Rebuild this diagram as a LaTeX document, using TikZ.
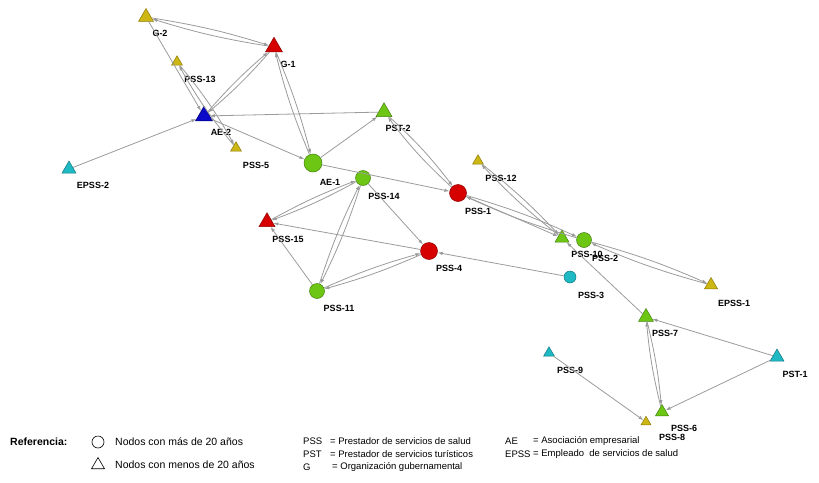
\documentclass[tikz,border=0pt]{standalone}
\usepackage{fontspec}
\setmainfont{Liberation Sans}
\usetikzlibrary{shapes.geometric,arrows.meta}

\definecolor{cOlive}{RGB}{205,183,20}
\definecolor{cOliveD}{RGB}{140,120,0}
\definecolor{cRed}{RGB}{214,0,0}
\definecolor{cRedD}{RGB}{140,0,0}
\definecolor{cGreen}{RGB}{110,198,20}
\definecolor{cGreenD}{RGB}{65,130,10}
\definecolor{cTeal}{RGB}{30,185,195}
\definecolor{cTealD}{RGB}{15,120,130}
\definecolor{cBlue}{RGB}{10,10,200}
\definecolor{cBlueD}{RGB}{0,0,110}
\definecolor{cEdge}{RGB}{155,155,155}

\begin{document}
\begin{tikzpicture}[x=1pt, y=-1pt,
    circ/.style={circle, inner sep=0pt, minimum size=#1, line width=0.5pt},
    tri/.style={regular polygon, regular polygon sides=3, inner sep=0pt, minimum size=#1, line width=0.5pt},
    nolive/.style={fill=cOlive, draw=cOliveD},
    nred/.style={fill=cRed, draw=cRedD},
    ngreen/.style={fill=cGreen, draw=cGreenD},
    nteal/.style={fill=cTeal, draw=cTealD},
    nblue/.style={fill=cBlue, draw=cBlueD},
    lbl/.style={font=\bfseries\fontsize{9}{10}\selectfont, inner sep=0pt},
    leg/.style={font=\fontsize{9.5}{11}\selectfont, inner sep=0pt, anchor=west},
    legbig/.style={font=\fontsize{10.5}{12}\selectfont, inner sep=0pt, anchor=west},
    edge/.style={draw=cEdge, line width=0.8pt, -{Latex[length=5pt,width=3.5pt]}}]
    \useasboundingbox (0,0) rectangle (819,482);

    % nodes
    \node[tri=17, nolive] (G2) at (146,17) {};
    \node[tri=19.5, nred] (G1) at (274,47) {};
    \node[tri=12.5, nolive] (PSS13) at (177,62) {};
    \node[tri=19.5, nblue] (AE2) at (204,116) {};
    \node[tri=12.5, nolive] (PSS5) at (236,148) {};
    \node[tri=16, nteal] (EPSS2) at (69,169) {};
    \node[tri=18.5, ngreen] (PST2) at (384,112) {};
    \node[circ=18, ngreen] (AE1) at (313,163) {};
    \node[circ=15, ngreen] (PSS14) at (363,178) {};
    \node[circ=17, nred] (PSS1) at (458,193) {};
    \node[tri=12.5, nolive] (PSS12) at (478,161) {};
    \node[tri=18.5, nred] (PSS15) at (267,222) {};
    \node[circ=17, nred] (PSS4) at (429,251) {};
    \node[circ=15, ngreen] (PSS11) at (317,291) {};
    \node[tri=16, ngreen] (PSS10) at (562,238) {};
    \node[circ=15, ngreen] (PSS2) at (584,240) {};
    \node[circ=12, nteal] (PSS3) at (570,277) {};
    \node[tri=15, nolive] (EPSS1) at (711,285) {};
    \node[tri=17, ngreen] (PSS7) at (646,317) {};
    \node[tri=16, nteal] (PST1) at (777,357) {};
    \node[tri=12.5, nteal] (PSS9) at (549,353) {};
    \node[tri=15, ngreen] (PSS6) at (662,412) {};
    \node[tri=11.5, nolive] (PSS8) at (646,422) {};

    % labels
    \node[lbl] (lG2) at (160,33) {G-2};
    \node[lbl] (lG1) at (288,64) {G-1};
    \node[lbl] (lPSS13) at (200,79) {PSS-13};
    \node[lbl] (lAE2) at (221,132) {AE-2};
    \node[lbl] (lPSS5) at (256,165) {PSS-5};
    \node[lbl] (lEPSS2) at (93,185) {EPSS-2};
    \node[lbl] (lPST2) at (398,128) {PST-2};
    \node[lbl] (lAE1) at (330,182) {AE-1};
    \node[lbl] (lPSS14) at (384,196) {PSS-14};
    \node[lbl] (lPSS1) at (478,211) {PSS-1};
    \node[lbl] (lPSS12) at (501,178) {PSS-12};
    \node[lbl] (lPSS15) at (288,239) {PSS-15};
    \node[lbl] (lPSS4) at (449,268) {PSS-4};
    \node[lbl] (lPSS11) at (339,308) {PSS-11};
    \node[lbl] (lPSS10) at (587,254) {PSS-10};
    \node[lbl] (lPSS2) at (605,258) {PSS-2};
    \node[lbl] (lPSS3) at (591,295) {PSS-3};
    \node[lbl] (lEPSS1) at (734,303) {EPSS-1};
    \node[lbl] (lPSS7) at (665,333) {PSS-7};
    \node[lbl] (lPST1) at (795,374) {PST-1};
    \node[lbl] (lPSS9) at (570,370) {PSS-9};
    \node[lbl] (lPSS6) at (684,428) {PSS-6};
    \node[lbl] (lPSS8) at (672,437) {PSS-8};

    % one way
    \draw[edge] (G2) -- (AE2);
    \draw[edge] (EPSS2) -- (AE2);
    \draw[edge] (PST2) -- (AE2);
    \draw[edge] (AE2) -- (AE1);
    \draw[edge] (AE1) -- (PST2);
    \draw[edge] (AE1) -- (PSS1);
    \draw[edge] (PSS14) -- (PSS4);
    \draw[edge] (PSS4) -- (PSS15);
    \draw[edge] (PSS11) -- (PSS15);
    \draw[edge] (PSS3) -- (PSS4);
    \draw[edge] (PSS1) -- (PSS10);
    \draw[edge] (PSS7) -- (PSS10);
    \draw[edge] (PST1) -- (PSS7);
    \draw[edge] (PST1) -- (PSS6);
    \draw[edge] (PSS9) -- (PSS8);

    % both ways
    \draw[edge] (G2) to[bend left=4] (G1);
    \draw[edge] (G1) to[bend left=4] (G2);
    \draw[edge] (PSS13) to[bend left=5] (PSS5);
    \draw[edge] (PSS5) to[bend left=5] (PSS13);
    \draw[edge] (AE2) to[bend left=4] (G1);
    \draw[edge] (G1) to[bend left=4] (AE2);
    \draw[edge] (G1) to[bend left=4] (AE1);
    \draw[edge] (AE1) to[bend left=4] (G1);
    \draw[edge] (PST2) to[bend left=5] (PSS1);
    \draw[edge] (PSS1) to[bend left=5] (PST2);
    \draw[edge] (PSS14) to[bend left=4] (PSS15);
    \draw[edge] (PSS15) to[bend left=4] (PSS14);
    \draw[edge] (PSS14) to[bend left=4] (PSS11);
    \draw[edge] (PSS11) to[bend left=4] (PSS14);
    \draw[edge] (PSS11) to[bend left=4] (PSS4);
    \draw[edge] (PSS4) to[bend left=4] (PSS11);
    \draw[edge] (PSS1) to[bend left=4] (PSS2);
    \draw[edge] (PSS2) to[bend left=4] (PSS1);
    \draw[edge] (PSS12) to[bend left=4] (PSS10);
    \draw[edge] (PSS10) to[bend left=4] (PSS12);
    \draw[edge] (PSS2) to[bend left=4] (EPSS1);
    \draw[edge] (EPSS1) to[bend left=4] (PSS2);
    \draw[edge] (PSS7) to[bend left=4] (PSS6);
    \draw[edge] (PSS6) to[bend left=4] (PSS7);

    % legend
    \node[legbig, font=\bfseries\fontsize{10.5}{12}\selectfont] (ref) at (10,442) {Referencia:};
    \node[circle, draw, line width=0.6pt, inner sep=0pt, minimum size=12] (legC) at (98,442) {};
    \node[regular polygon, regular polygon sides=3, draw, line width=0.6pt, inner sep=0pt, minimum size=15] (legT) at (98,465) {};
    \node[legbig] (legCt) at (115,442) {Nodos con más de 20 años};
    \node[legbig] (legTt) at (115,465) {Nodos con menos de 20 años};

    \node[leg] (aPSS) at (303,441) {PSS};
    \node[leg] (aPST) at (303,454) {PST};
    \node[leg] (aG) at (303,467) {G};
    \node[leg] (dPSS) at (330,441) {= Prestador de servicios de salud};
    \node[leg] (dPST) at (330,454) {= Prestador de servicios turísticos};
    \node[leg] (dG) at (332,467) {= Organización gubernamental};
    \node[leg] (aAE) at (505,441) {AE};
    \node[leg] (aEPSS) at (505,454) {EPSS};
    \node[leg] (dAE) at (533,441) {= Asociación empresarial};
    \node[leg] (dEPSS) at (533,454) {= Empleado\ \ de servicios de salud};
\end{tikzpicture}
\end{document}
